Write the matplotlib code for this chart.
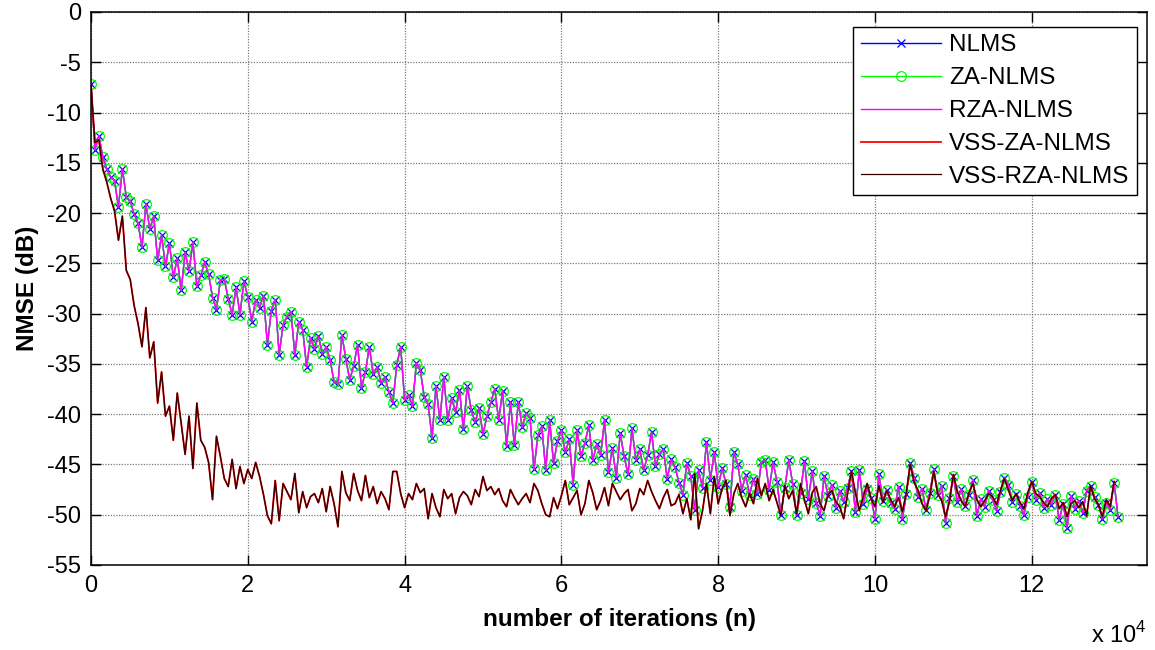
import numpy as np
import matplotlib
matplotlib.use("Agg")
import matplotlib.pyplot as plt

plt.rcParams['font.family'] = ['Liberation Sans', 'DejaVu Sans']
plt.rcParams['mathtext.fontset'] = 'custom'
plt.rcParams['mathtext.rm'] = 'Liberation Sans'
plt.rcParams['axes.unicode_minus'] = False

# sample spacing of the learning curves (iterations)
step = 500

# NLMS family (ZA and RZA lie on top of it)
nlms = [
    -7.2, -13.7, -12.3, -14.4, -15.6, -16.4, -16.8, -19.4, -15.6, -18.4, -18.8, -20.1, -21.0, -23.4, -19.1, -21.6, -20.3, -24.7, -22.2, -25.3,
    -23.0, -26.4, -24.5, -27.7, -23.9, -25.8, -22.9, -27.3, -26.2, -24.9, -26.1, -28.4, -29.6, -26.7, -26.6, -28.5, -30.1, -27.4, -30.1, -26.8,
    -28.3, -30.8, -28.6, -29.4, -28.2, -33.1, -29.7, -28.6, -34.1, -31.1, -30.3, -29.8, -34.1, -30.8, -31.6, -35.3, -32.4, -33.5, -32.2, -34.0,
    -33.3, -34.6, -36.8, -37.0, -32.1, -34.5, -36.6, -35.2, -33.1, -37.4, -35.8, -33.3, -36.0, -35.3, -36.9, -36.3, -37.8, -38.9, -35.1, -33.3,
    -38.6, -38.1, -39.2, -34.9, -35.6, -38.3, -39.0, -42.4, -37.2, -40.6, -36.3, -40.6, -38.4, -39.8, -37.6, -41.5, -37.2, -39.6, -40.8, -39.4,
    -42.0, -40.2, -38.8, -37.5, -40.6, -37.7, -43.2, -38.8, -43.1, -38.8, -41.3, -39.9, -40.4, -45.5, -42.1, -41.2, -45.6, -40.6, -44.9, -42.7,
    -41.6, -43.8, -42.5, -47.0, -41.6, -44.2, -42.9, -41.1, -44.6, -43.0, -44.1, -40.6, -45.8, -43.4, -46.3, -41.9, -44.2, -46.0, -41.4, -44.6,
    -43.5, -45.6, -44.1, -41.8, -45.2, -44.0, -43.5, -46.4, -44.5, -45.3, -46.8, -48.0, -44.9, -46.2, -49.5, -45.6, -47.3, -42.8, -46.5, -43.8,
    -47.2, -45.4, -46.9, -49.2, -43.8, -45.0, -47.6, -46.1, -48.0, -46.4, -47.9, -44.8, -44.6, -47.5, -44.8, -46.7, -50.0, -47.3, -44.6, -46.9,
    -50.0, -47.8, -44.7, -48.4, -45.7, -48.8, -50.1, -46.2, -48.1, -47.0, -49.3, -47.6, -48.7, -47.3, -45.7, -49.7, -45.6, -48.9, -47.4, -48.3,
    -50.4, -46.0, -48.6, -47.5, -48.8, -49.4, -47.2, -50.4, -47.9, -44.9, -46.3, -48.2, -47.4, -49.5, -47.8, -45.5, -48.0, -47.1, -50.8, -48.3,
    -46.2, -48.7, -47.4, -49.1, -48.0, -46.5, -50.1, -48.4, -49.2, -47.6, -48.5, -49.6, -47.7, -46.3, -47.0, -48.7, -47.9, -49.1, -50.0, -48.2,
    -46.7, -48.5, -47.8, -49.3, -48.4, -49.0, -48.0, -50.5, -48.9, -51.3, -48.1, -49.4, -48.6, -49.8, -47.6, -47.1, -48.2, -49.0, -50.4, -48.8,
    -49.5, -46.8, -50.2,
]
za_nlms = list(nlms)
rza_nlms = list(nlms)

# variable step-size versions (both curves coincide)
vss_za = [
    -7.2, -13.0, -12.7, -15.6, -16.9, -18.5, -19.8, -22.7, -20.3, -25.7, -26.6, -29.2, -31.0, -33.3, -29.4, -34.4, -32.8, -38.9, -35.8, -40.2,
    -39.2, -42.6, -37.9, -40.9, -44.0, -40.2, -45.4, -38.9, -42.6, -43.3, -44.8, -48.5, -42.2, -44.2, -46.4, -47.2, -44.5, -47.4, -45.2, -46.9,
    -45.5, -46.4, -44.8, -46.2, -48.0, -50.1, -50.9, -46.6, -50.6, -46.9, -47.7, -48.5, -45.9, -49.8, -47.7, -49.3, -48.2, -47.9, -48.8, -47.4,
    -49.7, -47.2, -48.9, -51.2, -45.7, -47.8, -48.6, -45.9, -47.6, -48.6, -46.1, -48.3, -47.2, -48.9, -47.7, -48.4, -49.5, -45.7, -45.7, -47.9,
    -49.3, -47.9, -48.5, -46.9, -47.8, -47.4, -50.4, -47.9, -49.3, -50.2, -47.5, -48.4, -47.9, -49.9, -48.3, -47.7, -48.1, -49.0, -47.5, -48.2,
    -46.2, -47.6, -47.2, -48.0, -47.4, -48.6, -49.2, -47.5, -48.3, -49.0, -48.4, -47.9, -48.8, -46.9, -47.6, -48.9, -50.0, -50.2, -48.3, -49.4,
    -48.1, -46.6, -49.0, -48.3, -47.6, -50.0, -48.9, -46.6, -47.8, -49.5, -48.6, -47.3, -49.1, -46.9, -47.7, -48.5, -47.9, -47.5, -49.6, -48.9,
    -47.4, -48.0, -46.6, -47.7, -48.6, -49.4, -48.3, -47.5, -49.1, -48.9, -48.0, -49.9, -48.4, -50.5, -45.9, -51.4, -49.6, -46.9, -49.9, -46.2,
    -48.9, -47.4, -46.6, -50.1, -47.9, -46.9, -48.3, -49.2, -47.9, -48.9, -46.4, -48.1, -46.9, -48.6, -47.5, -48.8, -50.1, -47.1, -48.4, -47.6,
    -49.9, -46.9, -48.5, -49.9, -47.8, -47.2, -48.9, -49.6, -48.0, -47.6, -48.7, -49.2, -50.4, -47.9, -45.7, -47.8, -49.6, -48.2, -46.9, -48.4,
    -49.2, -47.1, -48.8, -47.6, -48.5, -49.2, -48.3, -49.7, -47.8, -45.0, -46.8, -47.6, -48.9, -49.6, -48.1, -45.7, -47.9, -48.6, -50.2, -48.7,
    -46.0, -47.7, -48.6, -49.2, -47.8, -46.9, -48.5, -49.2, -48.6, -47.9, -48.2, -49.0, -47.6, -46.4, -47.5, -48.6, -47.9, -48.8, -49.4, -47.8,
    -46.7, -47.9, -48.2, -48.8, -49.2, -48.4, -48.0, -49.4, -48.8, -50.2, -48.9, -48.6, -49.3, -48.7, -50.1, -47.1, -48.4, -49.0, -50.2, -48.5,
    -49.2, -46.7,
]
vss_rza = list(vss_za)

xtick_vals = [0, 20000, 40000, 60000, 80000, 100000, 120000]
xtick_labels = ['0', '2', '4', '6', '8', '10', '12']
ytick_vals = [0, -5, -10, -15, -20, -25, -30, -35, -40, -45, -50, -55]

n1 = np.arange(len(nlms)) * step
n2 = np.arange(len(vss_za)) * step

fig = plt.figure(figsize=(11.55, 6.5), dpi=100)
ax = fig.add_axes([0.0788, 0.1308, 0.9143, 0.8508])

ax.plot(n1, nlms, color='#0000ff', lw=1, marker='x', ms=5.5, mew=0.9, label='NLMS')
ax.plot(n1, za_nlms, color='#00ff00', lw=1, marker='o', ms=7, mfc='none', mew=0.9, label='ZA-NLMS')
ax.plot(n1, rza_nlms, color='#ff00ff', lw=1, label='RZA-NLMS')
ax.plot(n2, vss_za, color='#ff0000', lw=1.3, label='VSS-ZA-NLMS')
ax.plot(n2, vss_rza, color='#300000', lw=0.9, label='VSS-RZA-NLMS')

ax.set_xlim(0, 134700)
ax.set_ylim(-55, 0)
ax.set_xticks(xtick_vals)
ax.set_xticklabels(xtick_labels)
ax.set_yticks(ytick_vals)
ax.tick_params(direction='in', length=7, width=1, top=True, right=True,
               labelsize=17, pad=7, colors='black')
for s in ax.spines.values():
    s.set_linewidth(1.1)
ax.grid(True, linestyle=(0, (1, 1.2)), color='#7a7a7a', linewidth=0.9)

ax.set_xlabel('number of iterations (n)', fontsize=17.5, fontweight='bold', labelpad=8)
ax.set_ylabel('NMSE (dB)', fontsize=17.5, fontweight='bold', labelpad=6)
ax.text(1.0, -0.14, r'x 10$^{4}$', transform=ax.transAxes, fontsize=17,
        ha='right', va='baseline')

leg = ax.legend(loc='upper right', bbox_to_anchor=(0.9905, 0.973), borderaxespad=0,
                fontsize=17.5, frameon=True, fancybox=False, framealpha=1,
                edgecolor='black', handlelength=3.3, handletextpad=0.35,
                labelspacing=0.45, borderpad=0.3)
leg.get_frame().set_linewidth(1)

fig.savefig('out.png', dpi=100)
